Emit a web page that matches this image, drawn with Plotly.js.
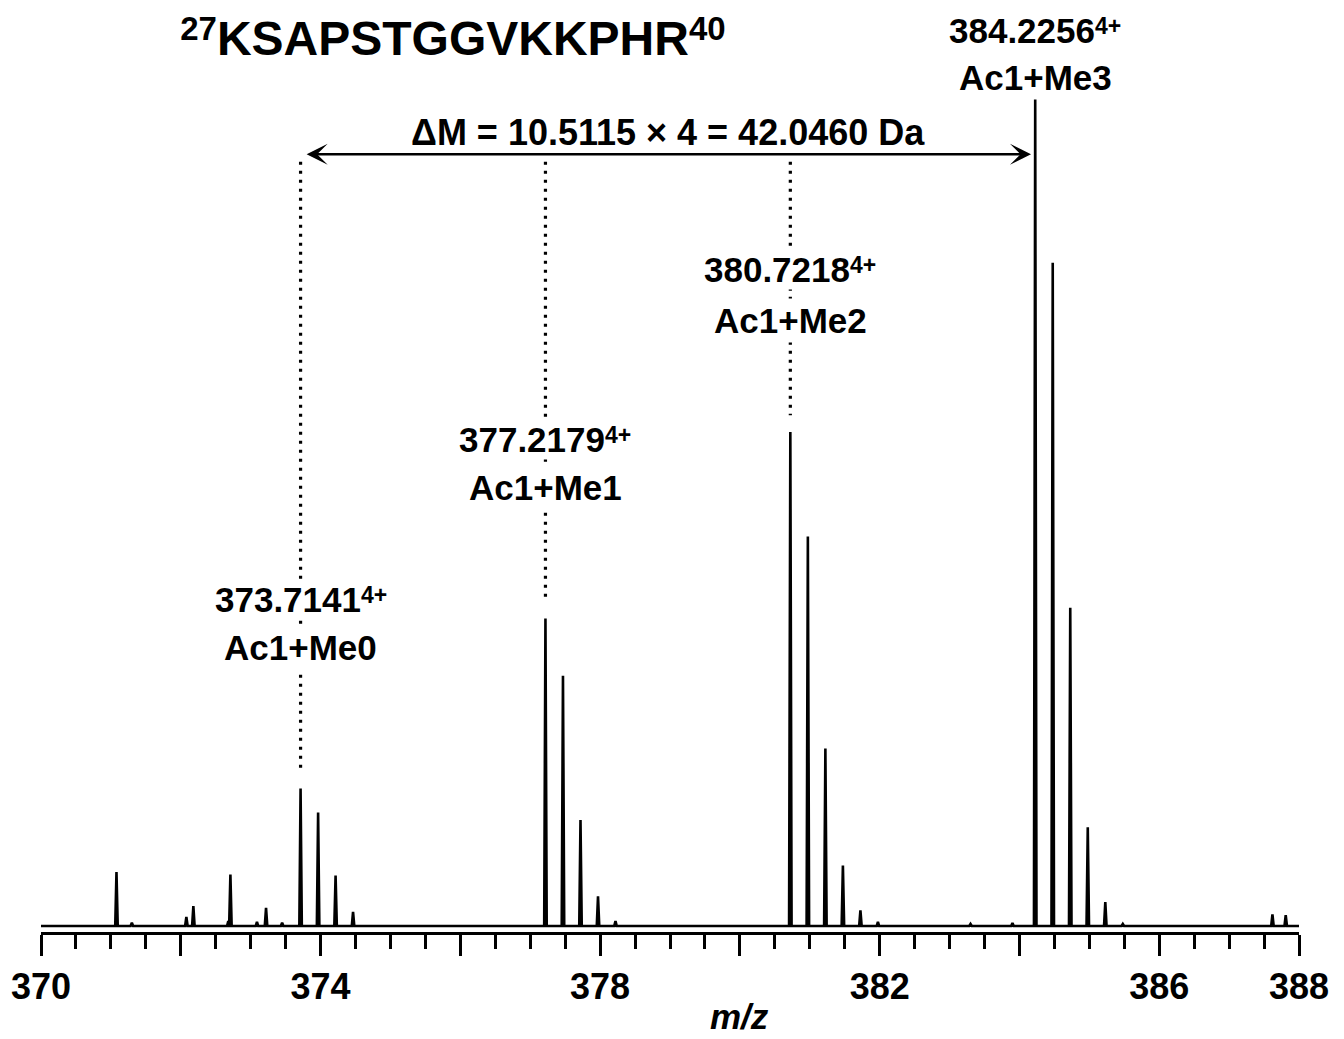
<!DOCTYPE html>
<html>
<head>
<meta charset="utf-8">
<script src="https://cdn.plot.ly/plotly-3.0.1.min.js"></script>
<style>html,body{margin:0;padding:0;background:#fff;}#chart{width:1344px;height:1039px;}</style>
</head>
<body>
<div id="chart"></div>
<script>
// ---- data ----
const peakMz = [371.08, 371.30, 372.08, 372.18, 372.68, 372.71, 373.09, 373.22, 373.45,
  373.7141, 373.965, 374.215, 374.465,
  377.2179, 377.4686, 377.7193, 377.970, 378.220,
  380.7218, 380.9725, 381.2232, 381.4739, 381.7246, 381.975,
  383.30, 383.90,
  384.2256, 384.4763, 384.7270, 384.9777, 385.2284, 385.479,
  387.62, 387.81];
const peakInt = [6.5, 0.4, 1.1, 2.4, 0.6, 6.2, 0.5, 2.2, 0.4,
  16.6, 13.7, 6.1, 1.7,
  37.1, 30.2, 12.8, 3.6, 0.6,
  59.6, 47.0, 21.4, 7.3, 1.9, 0.5,
  0.25, 0.35,
  100, 80.0, 38.4, 11.9, 2.9, 0.24,
  1.4, 1.3];

const labelMz = [373.7141, 377.2179, 380.7218, 384.2256];
const labelInt = [16.6, 37.1, 59.6, 100];
const labelCharge = ['4+', '4+', '4+', '4+'];
const labelMod = ['Ac1+Me0', 'Ac1+Me1', 'Ac1+Me2', 'Ac1+Me3'];
const deltaText = 'ΔM = 10.5115 × 4 = 42.0460 Da';
const peptideSeq = 'KSAPSTGGVKKPHR';
const peptideStart = '27';
const peptideEnd = '40';
const tickVals = [370, 372, 374, 376, 378, 380, 382, 384, 386, 388];
const tickText = ['370', '', '374', '', '378', '', '382', '', '386', '388'];
const xRange = [370, 388];

// ---- layout-only settings ----
const FONT = 'Liberation Sans, Arial, Helvetica, sans-serif';
const labelLine1Y = [39.4, 58.7, 79.2, 108.0];
const labelLine2Y = [33.6, 52.9, 73.1, 102.4];
const arrowY = 93.1;
const dotTopY = 92.2;
const halfW = 0.018;
const supLabel = t => '<span style="font-size:23px;baseline-shift:9px">' + t + '</span>';
const supTitle = t => '<span style="font-size:33px;baseline-shift:15px">' + t + '</span>';

// build the profile line from peak list
const order = peakMz.map((m, i) => i).sort((a, b) => peakMz[a] - peakMz[b]);
const px = [xRange[0]], py = [0];
order.forEach(i => {
  px.push(peakMz[i] - halfW, peakMz[i], peakMz[i] + halfW);
  py.push(0, peakInt[i], 0);
});
px.push(xRange[1]); py.push(0);

const trace = {
  type: 'scatter', mode: 'lines', x: px, y: py,
  line: {color: '#000', width: 2.6}, hoverinfo: 'skip', showlegend: false
};

const shapes = [];
const annotations = [];
labelMz.forEach((m, i) => {
  if (i < labelMz.length - 1) {
    shapes.push({type: 'line', xref: 'x', yref: 'y', x0: m, x1: m,
      y0: dotTopY, y1: labelInt[i] + 2,
      line: {color: '#000', width: 3.2, dash: '3.2px,5.8px'}});
  }
  annotations.push({xref: 'x', yref: 'y', x: m, y: labelLine1Y[i], showarrow: false,
    text: m.toFixed(4) + supLabel(labelCharge[i]), bgcolor: '#fff', borderpad: 0,
    xanchor: 'center', yanchor: 'middle',
    font: {family: FONT, size: 35, weight: 'bold', color: '#000'}});
  annotations.push({xref: 'x', yref: 'y', x: m, y: labelLine2Y[i], showarrow: false,
    text: labelMod[i], bgcolor: '#fff', borderpad: 2,
    xanchor: 'center', yanchor: 'middle',
    font: {family: FONT, size: 35, weight: 'bold', color: '#000'}});
});

// double-headed arrow between first and last labelled peak
const first = labelMz[0], last = labelMz[labelMz.length - 1];
annotations.push({xref: 'x', yref: 'y', axref: 'x', ayref: 'y',
  x: last - 0.06, y: arrowY, ax: first + 0.065, ay: arrowY, text: '',
  showarrow: true, arrowside: 'end+start', arrowhead: 3, startarrowhead: 3,
  arrowsize: 1.35, startarrowsize: 1.35, arrowwidth: 2.6, arrowcolor: '#000', standoff: 0, startstandoff: 0});
annotations.push({xref: 'x', yref: 'y', x: (first + last) / 2, y: arrowY + 2.6,
  text: deltaText, showarrow: false, xanchor: 'center', yanchor: 'middle',
  font: {family: FONT, size: 36, weight: 'bold', color: '#000'}});
annotations.push({xref: 'x', yref: 'paper', x: 380, y: -0.091, text: 'm/z', showarrow: false,
  xanchor: 'center', yanchor: 'middle',
  font: {family: FONT, size: 35, weight: 'bold', style: 'italic', color: '#000'}});

const layout = {
  width: 1344, height: 1039,
  margin: {l: 41, r: 45, t: 0, b: 107},
  paper_bgcolor: '#fff', plot_bgcolor: '#fff',
  showlegend: false,
  title: {text: supTitle(peptideStart) + peptideSeq + supTitle(peptideEnd),
    xref: 'container', yref: 'container', x: 0.337, y: 0.963,
    xanchor: 'center', yanchor: 'middle',
    font: {family: FONT, size: 48, weight: 'bold', color: '#000'}},
  xaxis: {
    range: xRange, showgrid: false, zeroline: false,
    showline: true, linecolor: '#000', linewidth: 3,
    tickmode: 'array', tickvals: tickVals, ticktext: tickText,
    ticks: 'outside', ticklen: 21, tickwidth: 3, tickcolor: '#000',
    tickfont: {family: FONT, size: 36, weight: 'bold', color: '#000'},
    minor: {tickmode: 'linear', tick0: 370, dtick: 0.5, ticks: 'outside', ticklen: 14,
      tickwidth: 3, tickcolor: '#000', showgrid: false}
  },
  yaxis: {range: [-0.72, 111.7], visible: false, showgrid: false, zeroline: false},
  shapes: shapes,
  annotations: annotations
};

Plotly.newPlot('chart', [trace], layout, {displayModeBar: false, staticPlot: true});
</script>
</body>
</html>
